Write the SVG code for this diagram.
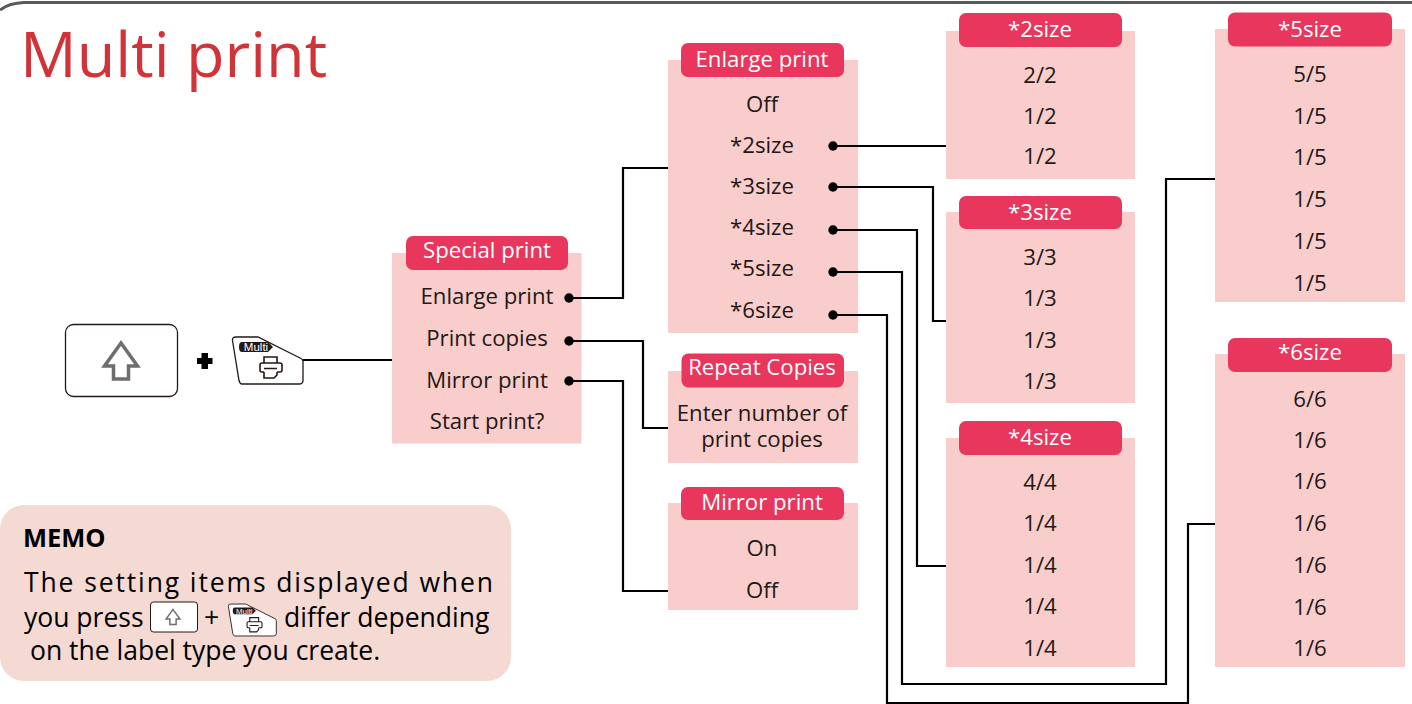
<svg xmlns="http://www.w3.org/2000/svg" width="1412" height="704" viewBox="0 0 1412 704">
<style>
text{font-family:"Open Sans","Noto Sans","Liberation Sans",sans-serif;font-size:22.200px;fill:#231815;text-anchor:middle}
.b{fill:#f8cdcb}
.h{fill:#e8365d}
text.ht{fill:#fff}
.c{fill:none;stroke:#000;stroke-width:2.200}
.d{fill:#000}
.k{fill:#fff;stroke:#231815;stroke-width:1.300}
.a{fill:#fff;stroke:#6e6e6e;stroke-width:3.500}
text.m{text-anchor:start;font-size:26.500px;fill:#000}
</style>
<defs>
<path id="shift" d="M0-18L-16.500 5H-7.500V18H7.500V5H16.500Z" class="a"/>
<g id="multi">
<path d="M-32-23.500H-10L33-2Q35-1 35 1V20Q35 23.500 31 23.500H-26Q-28 23.500-29 20L-35.500-20Q-36-23.500-32-23.500Z" class="k" stroke-width="1.500"/>
<path d="M-26-18.500H0L5-13.500 0-8.500H-26Q-29-8.500-29-13.500T-26-18.500Z" fill="#231815"/>
<text x="-12" y="-9.300" style="font-family:'Liberation Sans',sans-serif;font-size:11.500px;fill:#fff">Multi</text>
<path d="M-4 2.500V-3.500H9V2.500M-4 11.500H-6Q-8 11.500-8 9.500V4.500Q-8 2.500-6 2.500H12Q14 2.500 14 4.500V9.500Q14 11.500 12 11.500H9M-4 11.500V17.500H6L9 14.500V11.500M-4 8H9" fill="#fff" stroke="#231815" stroke-width="1.600"/>
</g>
</defs>
<path d="M0 10Q9 3 24 2.500H1412" fill="none" stroke="#58595b" stroke-width="3"/>
<text id="title" x="20" y="77" style="font-size:63px;fill:#d13438;text-anchor:start">Multi print</text>

<g id="key-shift">
<rect x="65.500" y="324.500" width="112" height="72" rx="8" fill="#fff" stroke="#231815" stroke-width="1.300"/>
<use href="#shift" x="121" y="361"/>
</g>
<path id="plus" d="M201.500 353H208V358H212.500V364H208V369H201.500V364H197V358H201.500Z" fill="#000"/>
<g id="key-multi"><use href="#multi" x="268" y="360.500"/></g>

<g id="special">
<rect class="b" x="392" y="253" width="189.500" height="190.500"/>
<rect class="h" x="406" y="236" width="162" height="34" rx="7"/>
<text class="ht" x="487" y="258">Special print</text>
<text x="487" y="304">Enlarge print</text>
<text x="487" y="346">Print copies</text>
<text x="487" y="388">Mirror print</text>
<text x="487" y="429">Start print?</text>
</g>
<g id="enlarge">
<rect class="b" x="668" y="60" width="190" height="273"/>
<rect class="h" x="681" y="43" width="163" height="34" rx="7"/>
<text class="ht" x="762" y="67">Enlarge print</text>
<text x="762" y="112">Off</text>
<text x="762" y="153">*2size</text>
<text x="762" y="194">*3size</text>
<text x="762" y="235">*4size</text>
<text x="762" y="276">*5size</text>
<text x="762" y="318">*6size</text>
</g>
<g id="repeat">
<rect class="b" x="668" y="371" width="190" height="92"/>
<rect class="h" x="681.500" y="353.500" width="162.500" height="34" rx="7"/>
<text class="ht" x="762" y="375">Repeat Copies</text>
<text><tspan x="762" y="421">Enter number of</tspan><tspan x="762" y="447">print copies</tspan></text>
</g>
<g id="mirror">
<rect class="b" x="668" y="503" width="190" height="107"/>
<rect class="h" x="681" y="487" width="163" height="33" rx="7"/>
<text class="ht" x="762" y="510">Mirror print</text>
<text x="762" y="556">On</text>
<text x="762" y="598">Off</text>
</g>
<g id="size2">
<rect class="b" x="946" y="31" width="189" height="148"/>
<rect class="h" x="959" y="13" width="163" height="34" rx="7"/>
<text class="ht" x="1040" y="37">*2size</text>
<text x="1040" y="83">2/2</text>
<text x="1040" y="124">1/2</text>
<text x="1040" y="164">1/2</text>
</g>
<g id="size3">
<rect class="b" x="946" y="212" width="189" height="191"/>
<rect class="h" x="959" y="196" width="163" height="33" rx="7"/>
<text class="ht" x="1040" y="220">*3size</text>
<text x="1040" y="265">3/3</text>
<text x="1040" y="306">1/3</text>
<text x="1040" y="348">1/3</text>
<text x="1040" y="389">1/3</text>
</g>
<g id="size4">
<rect class="b" x="946" y="438" width="189" height="229"/>
<rect class="h" x="959" y="421" width="163" height="34" rx="7"/>
<text class="ht" x="1040" y="445">*4size</text>
<text x="1040" y="490">4/4</text>
<text x="1040" y="531">1/4</text>
<text x="1040" y="573">1/4</text>
<text x="1040" y="614">1/4</text>
<text x="1040" y="656">1/4</text>
</g>
<g id="size5">
<rect class="b" x="1215" y="29" width="190" height="273"/>
<rect class="h" x="1228" y="12.500" width="164" height="34" rx="7"/>
<text class="ht" x="1310" y="37">*5size</text>
<text x="1310" y="82">5/5</text>
<text x="1310" y="124">1/5</text>
<text x="1310" y="165">1/5</text>
<text x="1310" y="207">1/5</text>
<text x="1310" y="249">1/5</text>
<text x="1310" y="291">1/5</text>
</g>
<g id="size6">
<rect class="b" x="1215" y="354" width="190" height="313"/>
<rect class="h" x="1228" y="338" width="164" height="34" rx="7"/>
<text class="ht" x="1310" y="360">*6size</text>
<text x="1310" y="407">6/6</text>
<text x="1310" y="448">1/6</text>
<text x="1310" y="489">1/6</text>
<text x="1310" y="531">1/6</text>
<text x="1310" y="573">1/6</text>
<text x="1310" y="615">1/6</text>
<text x="1310" y="656">1/6</text>
</g>
<g id="memo">
<rect x="0" y="505" width="511" height="176" rx="24" fill="#f5dad3"/>
<text x="23" y="547" style="text-anchor:start;font-weight:700;font-size:25.500px;fill:#000">MEMO</text>
<text class="m" x="24" y="592" textLength="469">The setting items displayed when</text>
<text class="m" x="24" y="627">you press</text>
<rect x="150.500" y="602" width="47" height="30" rx="3" fill="#fff" stroke="#231815"/>
<use href="#shift" transform="translate(173 617) scale(.42)"/>
<text class="m" x="204" y="627">+</text>
<g transform="translate(252.500 620) scale(.68)"><use href="#multi"/></g>
<text class="m" x="284" y="627">differ depending</text>
<text class="m" x="30" y="660">on the label type you create.</text>
</g>

<g id="connectors">
<path class="c" d="M303 360H392"/>
<path class="c" d="M569 298H623V168H668"/>
<path class="c" d="M569 341H643V428H668"/>
<path class="c" d="M569 381H623V591H668"/>
<path class="c" d="M833 146H946"/>
<path class="c" d="M833 187H933V321H946"/>
<path class="c" d="M833 230H917V566H946"/>
<path class="c" d="M833 272H902V684H1166V179H1215"/>
<path class="c" d="M833 315H887V703H1188V524H1215"/>
<g class="d">
<circle cx="569" cy="298" r="4.700"/><circle cx="569" cy="341" r="4.700"/><circle cx="569" cy="381" r="4.700"/>
<circle cx="833" cy="146" r="4.700"/><circle cx="833" cy="187" r="4.700"/><circle cx="833" cy="230" r="4.700"/><circle cx="833" cy="272" r="4.700"/><circle cx="833" cy="315" r="4.700"/>
</g>
</g>
</svg>
